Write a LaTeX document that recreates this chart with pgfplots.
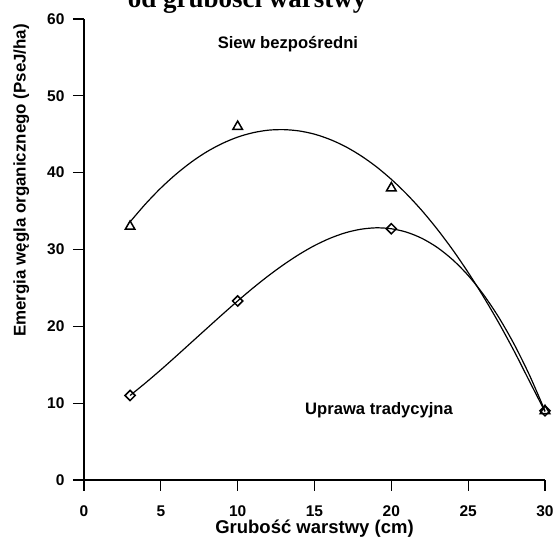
\documentclass[border=0pt]{standalone}
\usepackage{fontspec}
\setmainfont{Liberation Sans}
\newfontfamily\titlefont{Liberation Serif}
\usepackage{pgfplots}
\pgfplotsset{compat=1.18}

\begin{document}
\begin{tikzpicture}
\begin{axis}[
  name=ax,
  scale only axis, width=461pt, height=461pt,
  xmin=0, xmax=30, ymin=0, ymax=60,
  axis lines=left, axis line style={-, line width=1.2pt},
  xtick={0,5,...,30}, ytick={0,10,...,60},
  tick align=outside, major tick length=11pt,
  tick style={line width=1.2pt, black},
  /pgf/number format/assume math mode=true,
  tick label style={font=\bfseries\fontsize{15.5}{16}\selectfont},
  yticklabel style={xshift=-5pt},
  xticklabel style={yshift=-11pt},
  xlabel={Grubość warstwy (cm)},
  xlabel style={font=\bfseries\fontsize{18.5}{20}\selectfont, at={(axis description cs:0.5,0)}, anchor=base, yshift=-54pt},
  ylabel={Emergia węgla organicznego (PseJ/ha)},
  ylabel style={font=\bfseries\fontsize{16.9}{18}\selectfont, at={(axis description cs:-0.111,0.65)}, anchor=south},
  clip=false,
]
% fitted curve, Siew bezposredni
\addplot[black, line width=1.2pt, smooth] coordinates {
(3,33.60)(4,35.92)(5,38.00)(6,39.82)(7,41.40)(8,42.73)(9,43.80)(10,44.63)
(11,45.20)(12,45.53)(13,45.60)(14,45.43)(15,45.01)(16,44.33)(17,43.41)
(18,42.23)(19,40.81)(20,39.13)(21,37.21)(22,35.04)(23,32.61)(24,29.94)
(25,27.01)(26,23.84)(27,20.42)(28,16.74)(29,12.81)(30,8.9)};
% fitted curve, Uprawa tradycyjna
\addplot[black, line width=1.2pt, smooth] coordinates {
(3,11.00)(4,12.63)(5,14.34)(6,16.12)(7,17.93)(8,19.74)(9,21.54)(10,23.30)
(11,24.99)(12,26.58)(13,28.04)(14,29.36)(15,30.51)(16,31.45)(17,32.17)
(18,32.63)(19,32.82)(20,32.70)(21,32.25)(22,31.44)(23,30.25)(24,28.65)
(25,26.62)(26,24.12)(27,21.14)(28,17.64)(29,13.60)(30,9.00)};
% measured points
\addplot[only marks, mark=triangle, mark size=5.5pt, mark options={line width=1.5pt, fill=white}]
  coordinates {(3,33)(10,46)(20,38)(30,9)};
\addplot[only marks, mark=square, mark size=3.6pt, mark options={rotate=45, line width=1.5pt, fill=white}]
  coordinates {(3,11)(10,23.3)(20,32.7)(30,9)};
\node[anchor=base, font=\bfseries\fontsize{16.6}{18}\selectfont] at (axis cs:13.27,56.1) {Siew bezpośredni};
\node[anchor=base, font=\bfseries\fontsize{16.6}{18}\selectfont] at (axis cs:19.2,8.5) {Uprawa tradycyjna};
\node[anchor=base, font=\titlefont\bfseries\fontsize{27}{30}\selectfont] at (axis description cs:0.354,1.024) {od grubości warstwy};
\end{axis}
\pgfresetboundingbox
\useasboundingbox ([xshift=-84pt,yshift=-59pt]ax.south west) rectangle ([xshift=10pt,yshift=19pt]ax.north east);
\end{tikzpicture}
\end{document}
